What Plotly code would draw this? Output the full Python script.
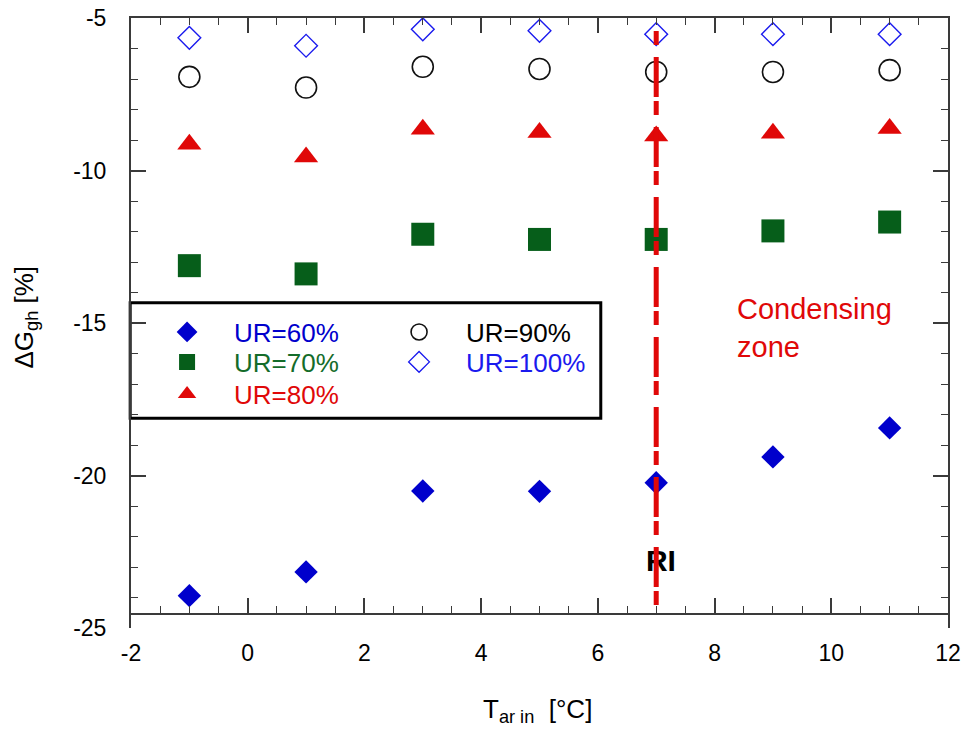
import plotly.graph_objects as go

# ---------------- data ----------------
T_AIR_IN = [-1, 1, 3, 5, 7, 9, 11]
UR60 = [-23.94, -23.16, -20.51, -20.52, -20.24, -19.39, -18.44]
UR70 = [-13.12, -13.39, -12.09, -12.26, -12.26, -11.98, -11.69]
UR80 = [-9.14, -9.56, -8.65, -8.75, -8.87, -8.78, -8.62]
UR90 = [-6.93, -7.28, -6.60, -6.67, -6.77, -6.77, -6.71]
UR100 = [-5.65, -5.91, -5.37, -5.42, -5.53, -5.53, -5.53]

RI_X = [7, 7]
RI_LINE_Y = [-5.43, -24.25]
RI_LABEL_X = [7.08]
RI_LABEL_Y = [-22.87]

X_TICKS = [-2, 0, 2, 4, 6, 8, 10, 12]
X_TICKTEXT = ["-2", "0", "2", "4", "6", "8", "10", "12"]
Y_TICKS = [-25, -20, -15, -10, -5]
Y_TICKTEXT = ["-25", "-20", "-15", "-10", "-5"]

FONT = "Arial, 'Liberation Sans', sans-serif"
BLUE = "#0000cc"
BLUE2 = "#1a1aee"
GREEN = "#065e1a"
GREEN_TXT = "#146c2a"
RED = "#e00808"
AXC = "#3a3a3a"

fig = go.Figure()

fig.add_trace(go.Scatter(
    x=T_AIR_IN, y=UR60, mode="markers", legend="legend",
    name=f"<span style='color:{BLUE}'>UR=60%</span>",
    marker=dict(symbol="diamond", size=18, color=BLUE, line=dict(width=0))))
fig.add_trace(go.Scatter(
    x=T_AIR_IN, y=UR90, mode="markers", legend="legend",
    name="<span style='color:#000000'>UR=90%</span>",
    marker=dict(symbol="circle-open", size=21, color="#111111", line=dict(width=1.6))))
fig.add_trace(go.Scatter(
    x=T_AIR_IN, y=UR70, mode="markers", legend="legend2",
    name=f"<span style='color:{GREEN_TXT}'>UR=70%</span>",
    marker=dict(symbol="square", size=23, color=GREEN, line=dict(width=0))))
fig.add_trace(go.Scatter(
    x=T_AIR_IN, y=UR100, mode="markers", legend="legend2",
    name=f"<span style='color:{BLUE2}'>UR=100%</span>",
    marker=dict(symbol="diamond-open", size=17.5, color=BLUE2, line=dict(width=1.4))))
fig.add_trace(go.Scatter(
    x=T_AIR_IN, y=UR80, mode="markers", legend="legend3",
    name=f"<span style='color:{RED}'>UR=80%</span>",
    marker=dict(symbol="triangle-up", size=21, color=RED, line=dict(width=0))))

# RI label (below the line)
fig.add_trace(go.Scatter(
    x=RI_LABEL_X, y=RI_LABEL_Y, mode="text", text=["<b>RI</b>"], showlegend=False,
    textfont=dict(family=FONT, size=30, color="#000000"), textposition="middle center",
    hoverinfo="skip"))
# RI dashed line
fig.add_trace(go.Scatter(
    x=RI_X, y=RI_LINE_Y, mode="lines", showlegend=False, hoverinfo="skip",
    line=dict(color=RED, width=5, dash="14px,12px,40px,4px")))

# a dummy trace on xaxis2 so the top axis is drawn
fig.add_trace(go.Scatter(x=[None], y=[None], xaxis="x2", yaxis="y", showlegend=False,
                         hoverinfo="skip"))

# legend frame (decorative box)
fig.add_shape(type="rect", xref="paper", yref="paper",
              x0=-0.001, x1=0.575, y0=0.344, y1=0.533,
              line=dict(color="#000000", width=3), fillcolor="rgba(0,0,0,0)", layer="below")

leg_common = dict(orientation="h", bgcolor="rgba(0,0,0,0)", borderwidth=0,
                  font=dict(family=FONT, size=26), xanchor="left", yanchor="middle",
                  entrywidth=133, entrywidthmode="pixels", itemwidth=84)

axis_common = dict(showgrid=False, zeroline=False, automargin=False,
                   ticks="inside", ticklen=15, tickwidth=1.5, tickcolor=AXC,
                   showline=True, linecolor=AXC, linewidth=2)

fig.update_layout(
    template="none",
    width=964, height=731,
    margin=dict(l=131, r=16, t=18, b=103, autoexpand=False),
    paper_bgcolor="white", plot_bgcolor="white",
    font=dict(family=FONT, size=23, color="#000000"),
    showlegend=True,
    legend=dict(x=0.0111, y=0.4852, **leg_common),
    legend2=dict(x=0.0111, y=0.4361, **leg_common),
    legend3=dict(x=0.0111, y=0.3836, **leg_common),
    xaxis=dict(
        range=[-2, 12], anchor="free", position=0.023,
        tickmode="array", tickvals=X_TICKS, ticktext=X_TICKTEXT,
        ticklabelstandoff=18, ticklabeloverflow="allow",
        tickfont=dict(family=FONT, size=23, color="#000000"),
        minor=dict(tickmode="linear", tick0=0, dtick=0.5, ticks="inside", ticklen=7,
                   tickwidth=1.3, tickcolor=AXC, showgrid=False),
        **axis_common,
    ),
    xaxis2=dict(
        range=[-2, 12], overlaying="x", side="top", anchor="y", matches="x",
        tickmode="array", tickvals=X_TICKS, showticklabels=False,
        minor=dict(tickmode="linear", tick0=0, dtick=0.5, ticks="inside", ticklen=7,
                   tickwidth=1.3, tickcolor=AXC, showgrid=False),
        **axis_common,
    ),
    yaxis=dict(
        range=[-25, -5], anchor="x",
        tickmode="array", tickvals=Y_TICKS, ticktext=Y_TICKTEXT,
        mirror="ticks", ticklabelstandoff=18, ticklabeloverflow="allow",
        tickfont=dict(family=FONT, size=23, color="#000000"),
        minor=dict(tickmode="linear", tick0=0, dtick=1, ticks="inside", ticklen=7,
                   tickwidth=1.3, tickcolor=AXC, showgrid=False),
        **axis_common,
    ),
    annotations=[
        dict(text="Condensing<br>zone", xref="paper", yref="paper", x=0.7395, y=0.4926,
             xanchor="left", yanchor="middle", align="left", showarrow=False,
             font=dict(family=FONT, size=29, color=RED)),
        dict(text="T<sub>ar&nbsp;in</sub>&nbsp;&nbsp;[°C]", xref="paper", yref="paper",
             x=0.497, y=-0.135, xanchor="center", yanchor="middle", showarrow=False,
             font=dict(family=FONT, size=26, color="#000000")),
        dict(text="ΔG<sub>gh</sub> [%]", xref="paper", yref="paper", textangle=-90,
             x=-0.1297, y=0.509, xanchor="center", yanchor="middle", showarrow=False,
             font=dict(family=FONT, size=26, color="#000000")),
    ],
)

# remove the browser's default 8px page margin so the figure fills the window exactly
fig.write_html("out.html", config={"displayModeBar": False},
               post_script="document.body.style.margin='0';")
